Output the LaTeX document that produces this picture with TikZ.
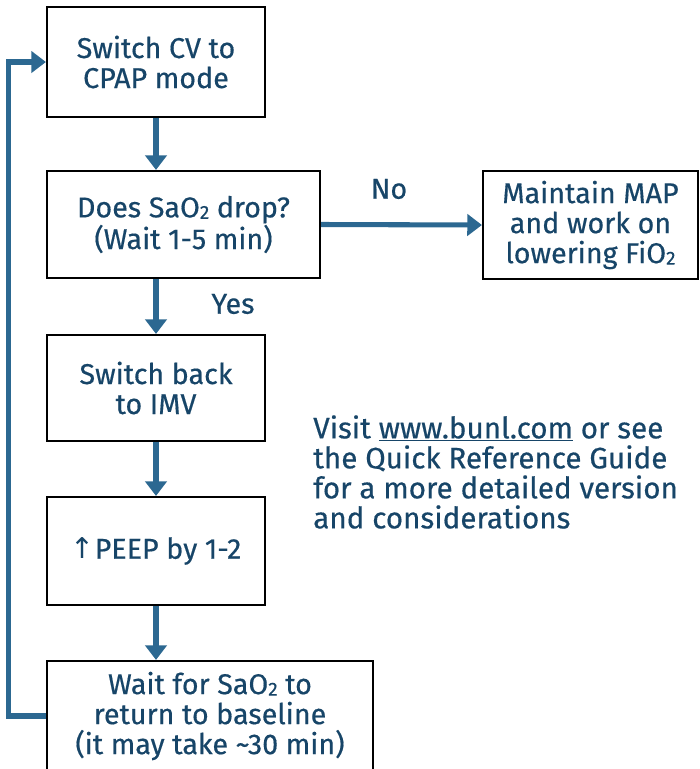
\documentclass[tikz,border=0pt]{standalone}
\usepackage{fontspec}
\setmainfont{Fira Sans}[FakeBold=0.45]
\newfontfamily\symfont{DejaVu Sans}
\usetikzlibrary{arrows.meta}
\definecolor{flowline}{HTML}{2C6891}
\definecolor{flowtext}{HTML}{174568}
\newcommand{\subtwo}{\raisebox{-0.1ex}{\scalebox{0.66}{2}}}
\begin{document}
\begin{tikzpicture}[x=0.75pt,y=-0.75pt,
  stepbox/.style={draw=black, line width=1.6pt, fill=white, inner sep=0pt,
    align=center, text=flowtext, font=\fontsize{21.5}{22.5}\selectfont},
  flow/.style={draw=flowline, line width=3.8pt,
    -{Triangle[width=16pt,length=11pt]}},
  lbl/.style={text=flowtext, font=\fontsize{21.5}{22.5}\selectfont}]
\useasboundingbox (0,0) rectangle (700,769);
% process boxes
\node[stepbox, minimum width=218*0.75pt, minimum height=110*0.75pt] (b1) at (156,62)
  {Switch CV to\\CPAP mode};
\node[stepbox, minimum width=273*0.75pt, minimum height=107*0.75pt] (b2) at (183.5,224.5)
  {Does SaO\subtwo{} drop?\\(Wait 1-5 min)};
\node[stepbox, minimum width=215*0.75pt, minimum height=108*0.75pt] (b3) at (590.5,225)
  {Maintain MAP\\and work on\\lowering FiO\subtwo};
\node[stepbox, minimum width=218*0.75pt, minimum height=106*0.75pt] (b4) at (156,388)
  {Switch back\\to IMV};
\node[stepbox, minimum width=218*0.75pt, minimum height=108*0.75pt] (b5) at (156,551)
  {{\symfont ↑}PEEP by 1-2};
\node[stepbox, minimum width=326*0.75pt, minimum height=110*0.75pt] (b6) at (210,716)
  {Wait for SaO\subtwo{} to\\return to baseline\\(it may take \textasciitilde30 min)};
% connectors
\draw[flow] (b1.south) -- (b1.south |- b2.north);
\draw[flow] (b2.south -| b4.north) -- (b4.north);
\draw[flow] (b4.south) -- (b5.north);
\draw[flow] (b5.south) -- (b5.south |- b6.north);
\draw[flow] (b2.east) -- (b3.west);
\draw[flow] (b6.west) -- ++(-37,0) |- (b1.west);
% branch labels
\node[lbl] (no) at (389,189) {No};
\node[lbl] (yes) at (233,304) {Yes};
% note
\node[lbl, anchor=north west, align=left, inner sep=0pt,
  font=\fontsize{22.2}{22.5}\selectfont] (note) at (313,415)
  {Visit \underline{www.bunl.com} or see\\the Quick Reference Guide\\for a more detailed version\\and considerations};
\end{tikzpicture}
\end{document}
